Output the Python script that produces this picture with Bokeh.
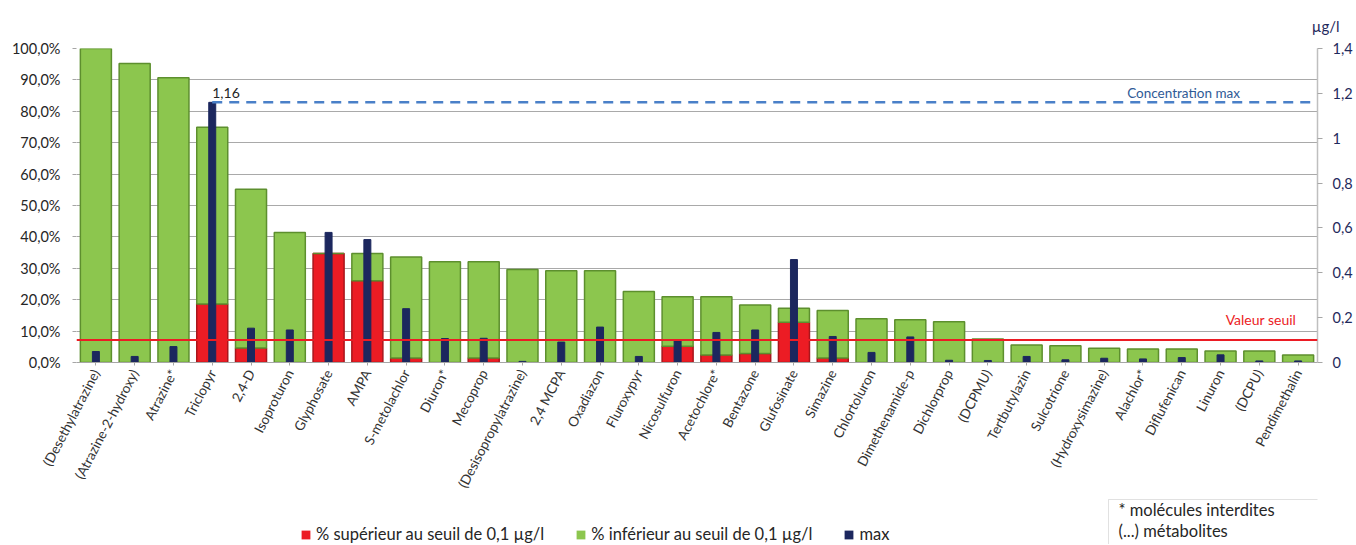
from bokeh.plotting import figure
from bokeh.layouts import column
from bokeh.models import (FactorRange, Range1d, LinearAxis, FixedTicker, Span, Label, Title,
                          Legend, LegendItem, ColumnDataSource, BoxAnnotation)
from bokeh.embed import file_html
from bokeh.resources import INLINE

categories = ["(Desethylatrazine)", "(Atrazine-2-hydroxy)", "Atrazine*", "Triclopyr", "2,4-D",
              "Isoproturon", "Glyphosate", "AMPA", "S-metolachlor", "Diuron*", "Mecoprop",
              "(Desisopropylatrazine)", "2,4 MCPA", "Oxadiazon", "Fluroxypyr", "Nicosulfuron",
              "Acetochlore*", "Bentazone", "Glufosinate", "Simazine", "Chlortoluron",
              "Dimethenamide-p", "Dichlorprop", "(DCPMU)", "Tertbutylazin", "Sulcotrione",
              "(Hydroxysimazine)", "Alachlor*", "Diflufenican", "Linuron", "(DCPU)", "Pendimethalin"]

# % of analyses with quantification (total) and % above 0.1 µg/l threshold
pct_total = [100.0, 95.2, 90.7, 74.9, 55.2, 41.4, 34.7, 34.7, 33.6, 32.1, 32.1, 29.6, 29.2, 29.2,
             22.6, 20.9, 20.9, 18.3, 17.3, 16.6, 13.9, 13.6, 13.0, 7.5, 5.6, 5.3, 4.5, 4.3, 4.3,
             3.7, 3.7, 2.4]
pct_sup = [0.0, 0.0, 0.0, 18.6, 4.6, 0.0, 34.7, 26.0, 1.4, 0.0, 1.4, 0.0, 0.0, 0.0,
           0.0, 5.2, 2.4, 2.9, 12.8, 1.4, 0.0, 0.0, 0.0, 0.0, 0.0, 0.0, 0.0, 0.0, 0.0,
           0.0, 0.0, 0.0]
# max concentration, µg/l
max_ugl = [0.049, 0.027, 0.071, 1.16, 0.153, 0.145, 0.58, 0.548, 0.24, 0.107, 0.108, 0.005, 0.091,
           0.158, 0.027, 0.097, 0.134, 0.145, 0.459, 0.116, 0.045, 0.114, 0.01, 0.009, 0.027,
           0.012, 0.019, 0.016, 0.022, 0.034, 0.007, 0.007]

left_ticks = [0, 10, 20, 30, 40, 50, 60, 70, 80, 90, 100]
left_tick_labels = ["0,0%", "10,0%", "20,0%", "30,0%", "40,0%", "50,0%", "60,0%", "70,0%",
                    "80,0%", "90,0%", "100,0%"]
right_ticks = [0, 0.2, 0.4, 0.6, 0.8, 1, 1.2, 1.4]
right_tick_labels = ["0", "0,2", "0,4", "0,6", "0,8", "1", "1,2", "1,4"]

threshold = 0.1
max_conc = 1.16
max_conc_label = "1,16"

series_labels = ["% supérieur au seuil de 0,1 µg/l", "% inférieur au seuil de 0,1 µg/l", "max"]
note_lines = ["*  molécules interdites", "(...) métabolites"]

FONT = "Lato"
RED = "#ec1c24"
GREEN = "#8cc64e"
NAVY = "#1c275e"
W = 1355
H_CHART = 498
H_FOOT = 46

pct_inf = [t - s for t, s in zip(pct_total, pct_sup)]
src = ColumnDataSource(dict(cat=categories, sup=pct_sup, inf=pct_inf, mx=max_ugl))

p = figure(x_range=FactorRange(factors=categories, range_padding=0),
           y_range=Range1d(0, 100), width=W, height=H_CHART,
           output_backend="svg", toolbar_location=None,
           min_border_left=76, min_border_right=37, min_border_top=47,
           min_border_bottom=H_CHART - 362)
p.extra_y_ranges = {"ug": Range1d(0, 1.4)}
p.outline_line_color = None

r_sup, r_inf = p.vbar_stack(["sup", "inf"], x="cat", width=0.8, source=src,
                            fill_color=[RED, GREEN], line_color=["#a8161c", "#5d8f2e"],
                            line_width=1.5)
r_max = p.vbar(x="cat", top="mx", width=0.18, source=src, y_range_name="ug",
               fill_color=NAVY, line_color=NAVY)

# threshold and max concentration lines
p.add_layout(Span(location=threshold, dimension="width", y_range_name="ug",
                  line_color=RED, line_width=2))
imax = max_ugl.index(max(max_ugl))
p.segment(x0=[imax + 0.5], x1=[len(categories) - 0.15], y0=[max_conc], y1=[max_conc],
          y_range_name="ug", line_color="#4a80c8", line_width=2.5, line_dash="10 7")

p.add_layout(Label(x=imax + 0.5, y=max_conc, y_range_name="ug", text=max_conc_label,
                   text_font=FONT, text_font_size="14px", text_color="#262626",
                   text_baseline="bottom", text_align="left", y_offset=4))
p.add_layout(Label(x=len(categories) - 2.0, y=max_conc, y_range_name="ug",
                   text="Concentration max", text_font=FONT, text_font_size="13.5px",
                   text_color="#2f5a96", text_baseline="bottom", text_align="right", y_offset=1))
p.add_layout(Label(x=len(categories) - 0.55, y=threshold, y_range_name="ug",
                   text="Valeur seuil", text_font=FONT, text_font_size="14px",
                   text_color=RED, text_baseline="bottom", text_align="right", y_offset=12))

# axes
p.yaxis.ticker = FixedTicker(ticks=left_ticks)
p.yaxis.major_label_overrides = dict(zip(left_ticks, left_tick_labels))
p.yaxis.axis_line_color = None
p.yaxis.major_tick_line_color = "#a6a6a6"
p.yaxis.major_tick_out = 4
p.yaxis.major_tick_in = 0
p.yaxis.minor_tick_line_color = None
p.yaxis.major_label_text_font = FONT
p.yaxis.major_label_text_font_size = "14.5px"
p.yaxis.major_label_text_color = "#262626"
p.yaxis.major_label_standoff = 12

ra = LinearAxis(y_range_name="ug", ticker=FixedTicker(ticks=right_ticks))
ra.major_label_overrides = dict(zip(right_ticks, right_tick_labels))
ra.axis_line_color = "#bfbfbf"
ra.axis_line_width = 1.5
ra.major_tick_line_color = "#a6a6a6"
ra.major_tick_out = 5
ra.major_tick_in = 0
ra.minor_tick_line_color = None
ra.major_label_text_font = FONT
ra.major_label_text_font_size = "14.5px"
ra.major_label_text_color = "#1f2a5c"
ra.major_label_standoff = 10
p.add_layout(ra, "right")

p.xaxis.axis_line_color = "#a6a6a6"
p.xaxis.major_tick_line_color = "#a6a6a6"
p.xaxis.major_tick_out = 3
p.xaxis.major_tick_in = 0
p.xaxis.major_label_orientation = 1.09
p.xaxis.major_label_text_font = FONT
p.xaxis.major_label_text_font_size = "13.5px"
p.xaxis.major_label_text_color = "#333333"
p.xaxis.major_label_standoff = 5

p.xgrid.grid_line_color = None
p.ygrid.ticker = FixedTicker(ticks=left_ticks)
p.ygrid.grid_line_color = "#a9a9a9"
p.ygrid.grid_line_width = 1.2

# unit label above the right axis
p.add_layout(Title(text="µg/l", align="right", offset=-22, standoff=28, text_font=FONT,
                   text_font_size="15px", text_font_style="normal", text_color="#1f2a5c",
                   text_line_height=1.0),
             "above")

# footer: legend and note box (series drawn with zero width, used only for the swatches)
f = figure(width=W, height=H_FOOT, x_range=FactorRange(factors=categories, range_padding=0),
           y_range=Range1d(-2, -1), output_backend="svg", toolbar_location=None, min_border=0)
f.axis.visible = False
f.grid.visible = False
f.outline_line_color = None
g_sup, g_inf = f.vbar_stack(["sup", "inf"], x="cat", width=0, source=src,
                            fill_color=[RED, GREEN], line_color=None)
g_max = f.vbar(x="cat", top="mx", width=0, source=src, fill_color=NAVY, line_color=None)

legend = Legend(items=[LegendItem(label=series_labels[0], renderers=[g_sup]),
                       LegendItem(label=series_labels[1], renderers=[g_inf]),
                       LegendItem(label=series_labels[2], renderers=[g_max])],
                location=(224, 0), orientation="horizontal",
                glyph_width=11, glyph_height=11, label_height=18, label_text_font=FONT,
                label_text_font_size="16.5px", label_text_color="#262626",
                spacing=31, label_standoff=5, padding=0, margin=0,
                border_line_color=None, background_fill_alpha=0)
f.add_layout(legend, "center")

f.add_layout(BoxAnnotation(left=1032, right=1400, top=H_FOOT - 1, bottom=-10,
                           left_units="screen", right_units="screen",
                           top_units="screen", bottom_units="screen",
                           fill_color="white", fill_alpha=1.0,
                           line_color="#9a9a9a", line_width=1))
for i, line in enumerate(note_lines):
    f.add_layout(Label(x=1042, y=35 - 21 * i, x_units="screen", y_units="screen", text=line,
                       text_font=FONT, text_font_size="16.5px", text_color="#262626",
                       text_baseline="middle", text_align="left"))

layout = column(p, f, spacing=0)
open("out.html", "w").write(file_html(layout, INLINE))
